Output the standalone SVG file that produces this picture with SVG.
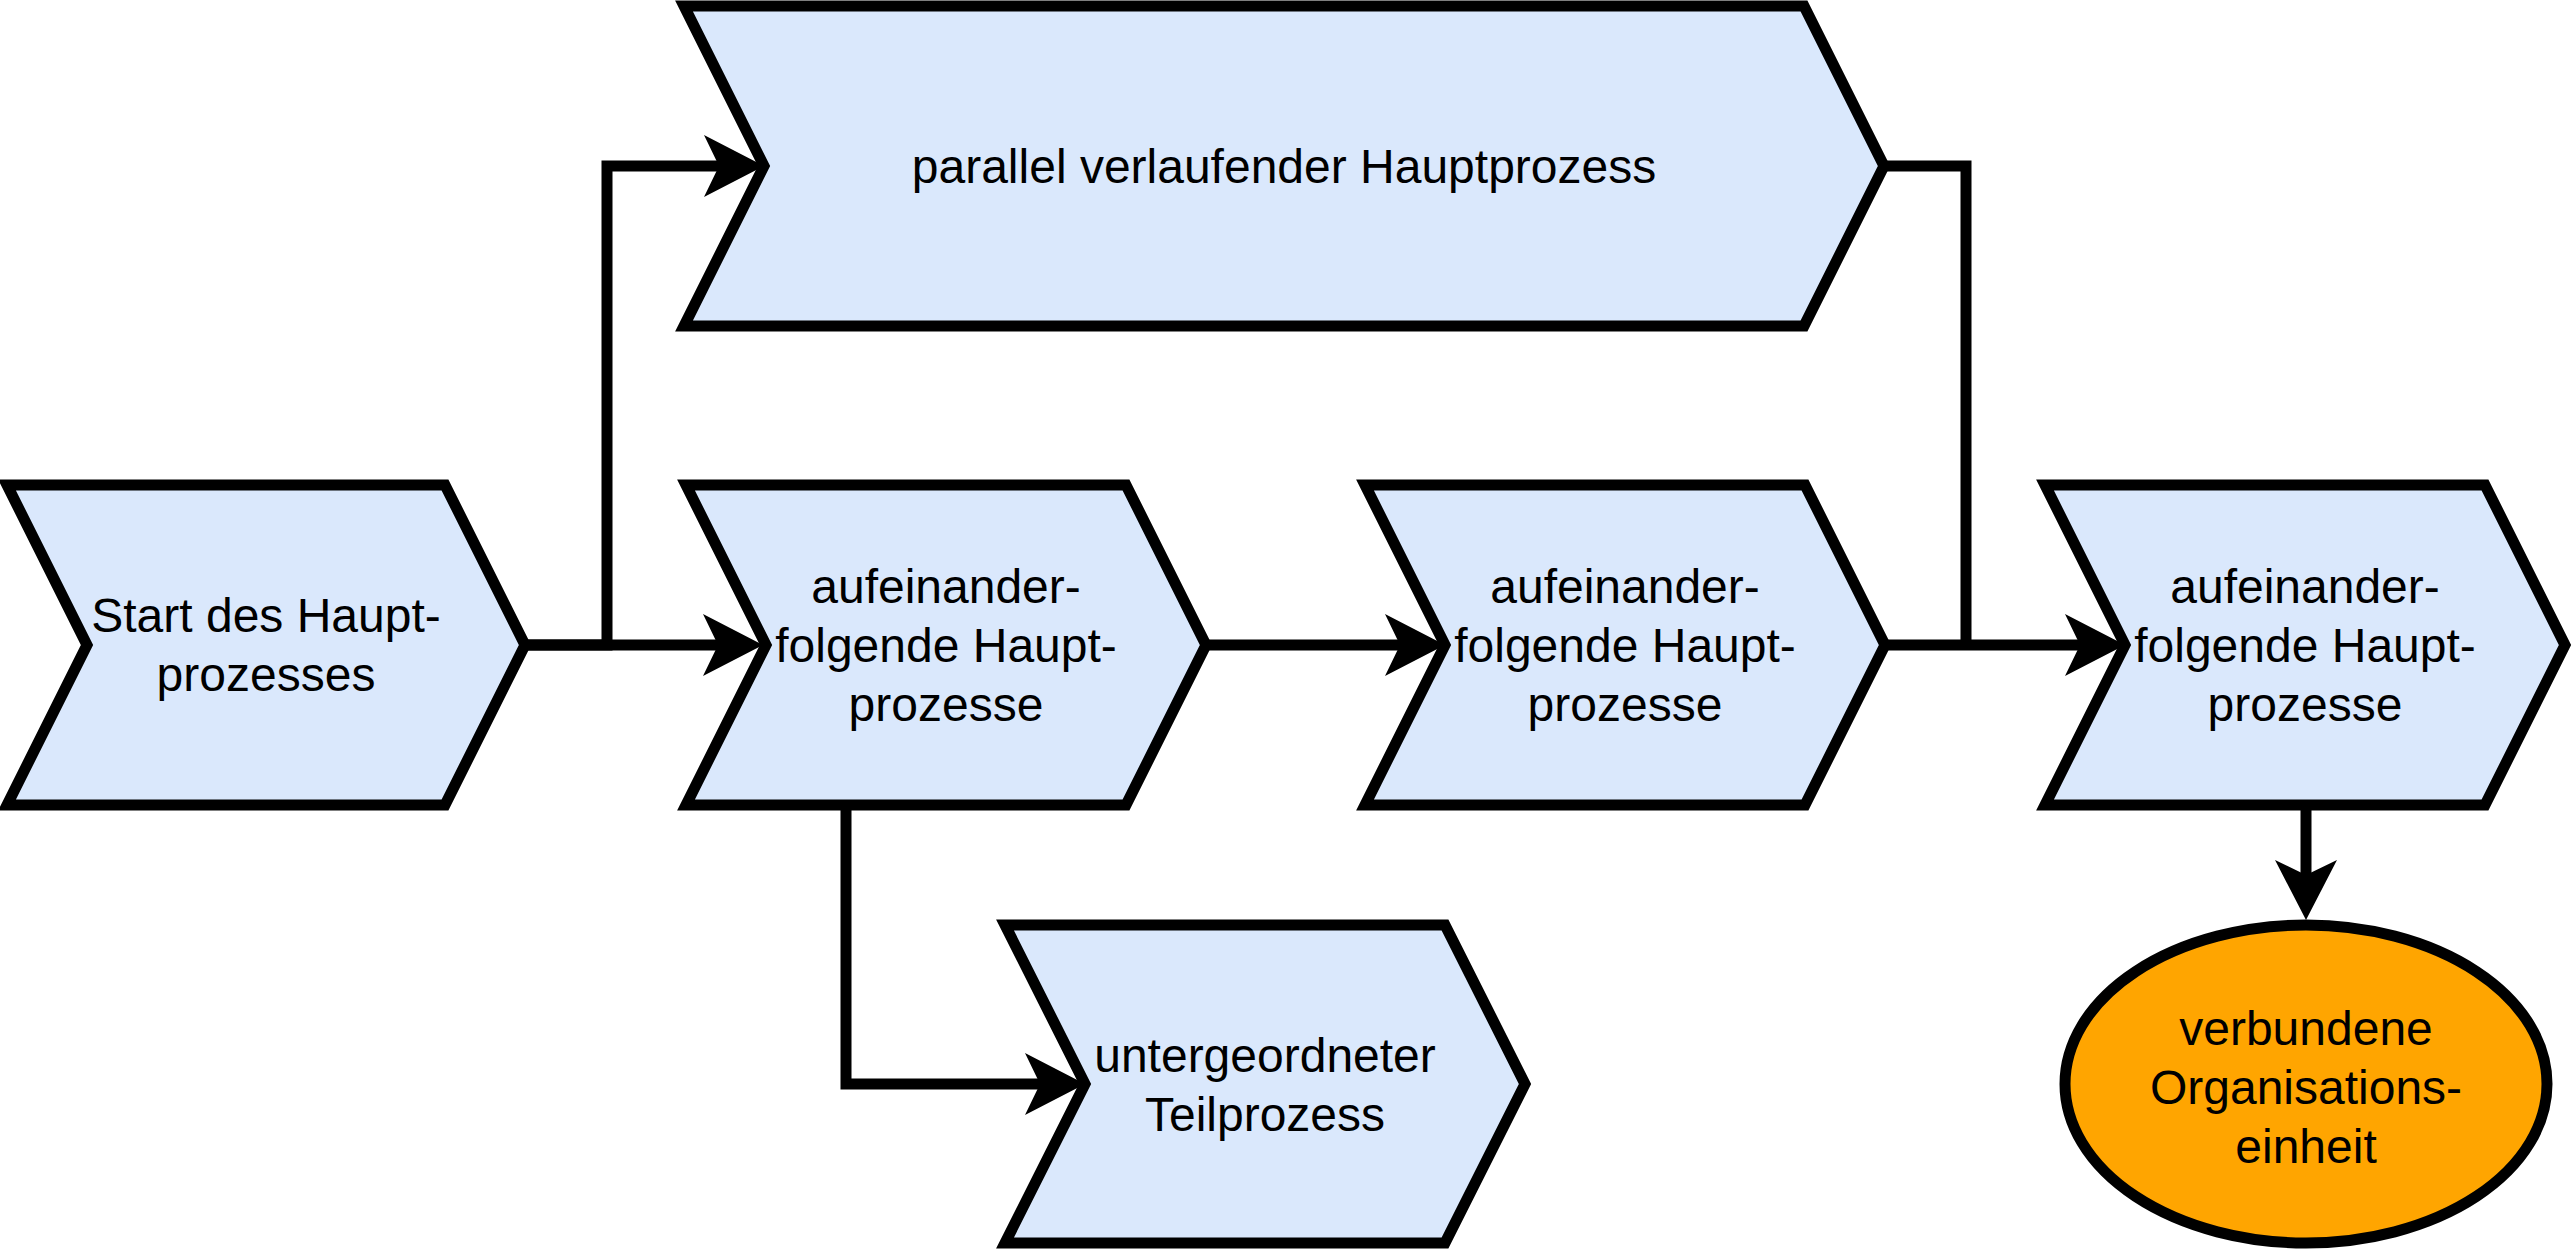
<svg xmlns="http://www.w3.org/2000/svg" width="2572" height="1252" viewBox="0 0 2572 1252">
<style>
.step{fill:#dae8fc;stroke:#000;stroke-width:11;stroke-linejoin:miter;stroke-miterlimit:10}
.org{fill:#ffa500;stroke:#000;stroke-width:11}
.lbl{font-family:"Liberation Sans",Arial,sans-serif;font-size:48px;fill:#000;text-anchor:middle}
.edge{fill:none;stroke:#000;stroke-width:11;stroke-linejoin:miter}
</style>
<defs>
<marker id="arr" markerUnits="userSpaceOnUse" markerWidth="80" markerHeight="80" refX="0" refY="0" orient="auto" overflow="visible">
<path d="M45,0 L-15,-31 L0,0 L-15,31 Z" fill="#000"/>
</marker>
</defs>
<rect width="2572" height="1252" fill="#fff"/>
<g id="connectors">
<path class="edge" d="M525,645 H718" marker-end="url(#arr)"/>
<path class="edge" d="M525,645 H607 V166 H719" marker-end="url(#arr)"/>
<path class="edge" d="M1206,645 H1400" marker-end="url(#arr)"/>
<path class="edge" d="M1884,166 H1966 V645"/>
<path class="edge" d="M1885,645 H2080" marker-end="url(#arr)"/>
<path class="edge" d="M846,805 V1084 H1040" marker-end="url(#arr)"/>
<path class="edge" d="M2306,805 V875" marker-end="url(#arr)"/>
</g>
<g id="start">
<polygon class="step" points="7,485 445,485 525,645 445,805 7,805 87,645"/>
<text class="lbl" x="266"><tspan x="266" y="632">Start des Haupt-</tspan><tspan x="266" y="691">prozesses</tspan></text>
</g>
<g id="parallel">
<polygon class="step" points="684,6 1804,6 1884,166 1804,326 684,326 764,166"/>
<text class="lbl" x="1284" y="183">parallel verlaufender Hauptprozess</text>
</g>
<g id="step1">
<polygon class="step" points="686,485 1126,485 1206,645 1126,805 686,805 766,645"/>
<text class="lbl"><tspan x="946" y="603">aufeinander-</tspan><tspan x="946" y="662">folgende Haupt-</tspan><tspan x="946" y="721">prozesse</tspan></text>
</g>
<g id="step2">
<polygon class="step" points="1365,485 1805,485 1885,645 1805,805 1365,805 1445,645"/>
<text class="lbl"><tspan x="1625" y="603">aufeinander-</tspan><tspan x="1625" y="662">folgende Haupt-</tspan><tspan x="1625" y="721">prozesse</tspan></text>
</g>
<g id="step3">
<polygon class="step" points="2045,485 2485,485 2565,645 2485,805 2045,805 2125,645"/>
<text class="lbl"><tspan x="2305" y="603">aufeinander-</tspan><tspan x="2305" y="662">folgende Haupt-</tspan><tspan x="2305" y="721">prozesse</tspan></text>
</g>
<g id="sub">
<polygon class="step" points="1005,925 1445,925 1525,1084 1445,1243 1005,1243 1085,1084"/>
<text class="lbl"><tspan x="1265" y="1072">untergeordneter</tspan><tspan x="1265" y="1131">Teilprozess</tspan></text>
</g>
<g id="org">
<ellipse class="org" cx="2306" cy="1084" rx="241" ry="159"/>
<text class="lbl"><tspan x="2306" y="1045">verbundene</tspan><tspan x="2306" y="1104">Organisations-</tspan><tspan x="2306" y="1163">einheit</tspan></text>
</g>
</svg>
